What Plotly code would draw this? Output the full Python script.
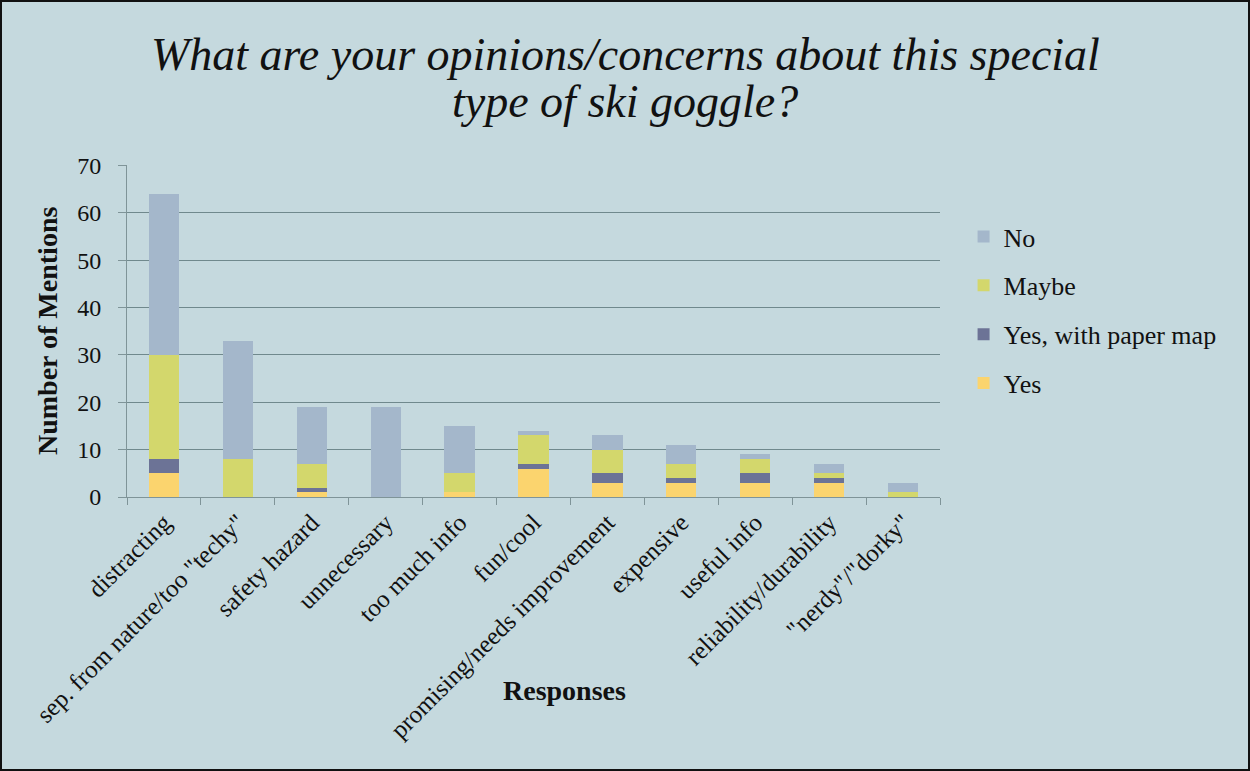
import plotly.graph_objects as go

# Survey responses: mentions of each opinion/concern, split by answer group
categories = [
    "distracting",
    'sep. from nature/too "techy"',
    "safety hazard",
    "unnecessary",
    "too much info",
    "fun/cool",
    "promising/needs improvement",
    "expensive",
    "useful info",
    "reliability/durability",
    '"nerdy"/"dorky"',
]
yes_vals = [5, 0, 1, 0, 1, 6, 3, 3, 3, 3, 0]
yes_paper_vals = [3, 0, 1, 0, 0, 1, 2, 1, 2, 1, 0]
maybe_vals = [22, 8, 5, 0, 4, 6, 5, 3, 3, 1, 1]
no_vals = [34, 25, 12, 19, 10, 1, 3, 4, 1, 2, 2]

title_lines = [
    "What are your opinions/concerns about this special",
    "type of ski goggle?",
]

# stacked bottom-to-top; legend lists them top-to-bottom (rank)
series = [
    ("Yes", yes_vals, "#fbd46e", 4),
    ("Yes, with paper map", yes_paper_vals, "#6c7396", 3),
    ("Maybe", maybe_vals, "#d3d76c", 2),
    ("No", no_vals, "#a4b7cb", 1),
]

FONT = "Liberation Serif"
BG = "#c5d9de"
AXIS = "#7f9498"
W, H = 1250, 771
L, R, T, B = 127, 310, 165, 274

fig = go.Figure()
for name, vals, color, rank in series:
    fig.add_trace(go.Bar(
        x=categories, y=vals, name=name,
        marker=dict(color=color, line=dict(width=0)),
        legendgroup=name, legendrank=rank,
    ))

fig.update_layout(
    width=W, height=H,
    barmode="stack",
    bargap=0.59,
    paper_bgcolor=BG,
    plot_bgcolor=BG,
    margin=dict(l=L, r=R, t=T, b=B, autoexpand=False),
    font=dict(family=FONT, color="#111111", size=20),
    showlegend=True,
    legend=dict(
        x=1.029, xanchor="left", y=0.855, yanchor="top",
        traceorder="grouped",
        tracegroupgap=12,
        font=dict(family=FONT, size=26, color="#111111"),
        bgcolor="rgba(0,0,0,0)",
        itemwidth=30,
    ),
    xaxis=dict(
        tickangle=-45,
        tickfont=dict(family=FONT, size=25),
        showline=True, linecolor=AXIS, linewidth=1,
        ticks="outside", tickson="boundaries", ticklen=7, tickcolor=AXIS,
        showgrid=False, automargin=False,
    ),
    yaxis=dict(
        range=[0, 70.1], tickvals=[0, 10, 20, 30, 40, 50, 60, 70],
        tickfont=dict(family=FONT, size=24),
        ticklabelstandoff=12,
        showline=True, linecolor=AXIS, linewidth=1,
        ticks="outside", ticklen=8, tickcolor=AXIS,
        showgrid=True, gridcolor="#70898d", gridwidth=1,
        zeroline=False, automargin=False,
    ),
)

# Two-line italic title, centred on the page
for text, ypx in zip(title_lines, [55, 101]):
    fig.add_annotation(
        text=f"<i>{text}</i>", xref="paper", yref="paper",
        x=(W / 2 - L) / (W - L - R), y=1 + (T - ypx) / (H - T - B),
        xanchor="center", yanchor="middle", showarrow=False,
        font=dict(family=FONT, size=46, color="#111111"),
    )

# Axis titles
fig.add_annotation(
    text="<b>Responses</b>", xref="paper", yref="paper",
    x=(564 - L) / (W - L - R), y=-(690 - (H - B)) / (H - T - B),
    xanchor="center", yanchor="middle", showarrow=False,
    font=dict(family=FONT, size=28, color="#111111"),
)
fig.add_annotation(
    text="<b>Number of Mentions</b>", xref="paper", yref="paper",
    x=-(L - 47) / (W - L - R), y=(H - B - 331) / (H - T - B),
    xanchor="center", yanchor="middle", showarrow=False, textangle=-90,
    font=dict(family=FONT, size=28, color="#111111"),
)

# Outer frame around the whole chart
fig.add_shape(
    type="rect", xref="paper", yref="paper",
    x0=-L / (W - L - R), x1=1 + R / (W - L - R),
    y0=-B / (H - T - B), y1=1 + T / (H - T - B),
    line=dict(color="#111111", width=4), fillcolor="rgba(0,0,0,0)", layer="above",
)

fig.write_html("out.html")
